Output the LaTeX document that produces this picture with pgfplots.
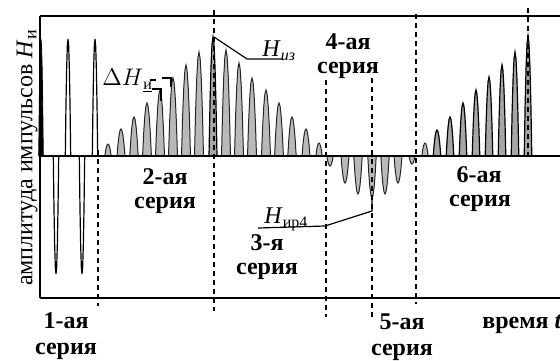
\documentclass[border=0pt]{standalone}
\usepackage{fontspec}
\setmainfont{Liberation Serif}
\usepackage{pgfplots}
\pgfplotsset{compat=1.18}
\tikzset{
  s1/.style={draw=black, fill=white, line width=0.6pt},
  s2/.style={draw=black!85, fill=gray!55, line width=0.5pt},
  s6/.style={draw=black, fill=gray!70, line width=0.6pt},
  dsh/.style={draw=black, line width=0.8pt, dash pattern=on 2.5pt off 2pt},
  lbl/.style={font=\bfseries\fontsize{12}{14}\selectfont, inner sep=0pt, anchor=center},
}
% #1 style, #2 half-width, #3 x position, #4 signed height
\newcommand\pulse[4]{%
  \pgfmathsetmacro\pA{#3-#2}\pgfmathsetmacro\pB{#3-0.75*#2}%
  \pgfmathsetmacro\pC{#3-0.5*#2}\pgfmathsetmacro\pD{#3-0.25*#2}%
  \pgfmathsetmacro\pE{#3+0.25*#2}\pgfmathsetmacro\pF{#3+0.5*#2}%
  \pgfmathsetmacro\pG{#3+0.75*#2}\pgfmathsetmacro\pH{#3+#2}%
  \pgfmathsetmacro\hB{0.44*#4}\pgfmathsetmacro\hC{0.75*#4}%
  \pgfmathsetmacro\hD{0.94*#4}%
  \addplot[#1] coordinates {(\pA,0) (\pB,\hB) (\pC,\hC) (\pD,\hD) (#3,#4) (\pE,\hD) (\pF,\hC) (\pG,\hB) (\pH,0)} \closedcycle;
}
\begin{document}
\begin{tikzpicture}
\begin{axis}[
  scale only axis, width=260pt, height=141pt,
  xmin=40, xmax=560, ymin=-142, ymax=140,
  axis lines=none, clip=false,
]
% series 1
\pulse{draw=black, fill=black, line width=0.4pt}{2.3}{41}{117}
\pulse{s1}{2.7}{68}{117}
\pulse{s1}{2.7}{95}{117}
\pulse{s1}{2.7}{56}{-118}
\pulse{s1}{2.7}{82}{-118}
% series 2
\pulse{s2}{3.2}{108}{12}
\pulse{s2}{4}{121}{27}
\pulse{s2}{4.2}{134}{39}
\pulse{s2}{4.4}{147}{53}
\pulse{s2}{4.5}{160}{66}
\pulse{s2}{4.5}{173}{78}
\pulse{s2}{4.5}{186}{91}
\pulse{s2}{4.5}{199}{104}
\pulse{s6}{4}{213}{119}
% series 3/4
\pulse{s2}{4.5}{226}{106}
\pulse{s2}{4.5}{239}{93}
\pulse{s2}{4.5}{252}{78}
\pulse{s2}{4.5}{266}{66}
\pulse{s2}{4.4}{279}{53}
\pulse{s2}{4.2}{292}{39}
\pulse{s2}{4}{306}{27}
\pulse{s2}{3.2}{319}{13}
% series 5
\pulse{s2}{3.2}{330}{-10}
\pulse{s2}{4}{345}{-27}
\pulse{s2}{4.2}{358}{-38}
\pulse{s2}{4.2}{372}{-42}
\pulse{s2}{4.2}{385}{-38}
\pulse{s2}{4}{398}{-27}
\pulse{s2}{3}{412}{-8}
% series 6
\pulse{s2}{3.2}{425}{13}
\pulse{s6}{3.8}{437}{26}
\pulse{s6}{3.8}{450}{39}
\pulse{s6}{3.8}{463}{53}
\pulse{s6}{3.8}{476}{66}
\pulse{s6}{3.8}{489}{79}
\pulse{s6}{3.8}{502}{91}
\pulse{s6}{3.8}{515}{104}
\pulse{s6}{3.8}{528}{120}
% frame
\draw[line width=0.8pt] (axis cs:40,140) -- (axis cs:560,140);
\draw[line width=0.8pt] (axis cs:40,-142) -- (axis cs:560,-142);
\draw[line width=0.8pt] (axis cs:40,140) -- (axis cs:40,-142);
\draw[line width=0.8pt] (axis cs:40,0) -- (axis cs:560,0);
% separators
\draw[dsh] (axis cs:98,6) -- (axis cs:98,-150);
\draw[dsh] (axis cs:214,146) -- (axis cs:214,-155);
\draw[dsh] (axis cs:326,76) -- (axis cs:326,-161);
\draw[dsh] (axis cs:372,78) -- (axis cs:372,-163);
\draw[dsh] (axis cs:416,142) -- (axis cs:416,-148);
\draw[dsh] (axis cs:528,148) -- (axis cs:528,0);
% labels
\node[lbl] at (axis cs:165,-21) {2-ая};
\node[lbl] at (axis cs:165,-49) {серия};
\node[lbl] at (axis cs:348,114) {4-ая};
\node[lbl] at (axis cs:348,86) {серия};
\node[lbl] at (axis cs:479,-19) {6-ая};
\node[lbl] at (axis cs:480,-47) {серия};
\node[lbl] at (axis cs:267,-87) {3-я};
\node[lbl] at (axis cs:267,-115) {серия};
\node[lbl] at (axis cs:66,-165) {1-ая};
\node[lbl] at (axis cs:66,-195) {серия};
\node[lbl] at (axis cs:402,-166) {5-ая};
\node[lbl] at (axis cs:402,-196) {серия};
\node[lbl, anchor=west] at (axis cs:482,-168) {время \textit{t}};
\node[font=\fontsize{12}{14}\selectfont, rotate=90, inner sep=0pt] at (axis cs:27,-2)
  {амплитуда импульсов \textit{H}\raisebox{-2pt}{\small и}};
% annotations
\node[font=\fontsize{12}{14}\selectfont, inner sep=0pt, anchor=base west] at (axis cs:102,71)
  {$\Delta H$\raisebox{-2pt}{\footnotesize\underline{и}}};
\draw[line width=0.6pt] (axis cs:150,76) -- (axis cs:156,76);
\draw[line width=0.6pt] (axis cs:162,78) -- (axis cs:171,78) -- (axis cs:171,69);
\draw[line width=0.6pt] (axis cs:152,67) -- (axis cs:161,67) -- (axis cs:161,55);
\node[font=\fontsize{12}{14}\selectfont, inner sep=0pt, anchor=base west] at (axis cs:262,100)
  {\textit{H}\raisebox{-2pt}{\footnotesize\textit{из}}};
\draw[line width=0.6pt] (axis cs:214,119) -- (axis cs:247,97) -- (axis cs:283,97);
\node[font=\fontsize{12}{14}\selectfont, inner sep=0pt, anchor=base west] at (axis cs:264,-67)
  {\textit{H}\raisebox{-2pt}{\footnotesize ир4}};
\draw[line width=0.6pt] (axis cs:258,-72) -- (axis cs:325,-70) -- (axis cs:372,-55) -- (axis cs:372,-39);
\coordinate (TL) at (axis cs:0,156);
\coordinate (BR) at (axis cs:560,-204);
\end{axis}
\pgfresetboundingbox
\path (TL) rectangle (BR);
\end{tikzpicture}
\end{document}
